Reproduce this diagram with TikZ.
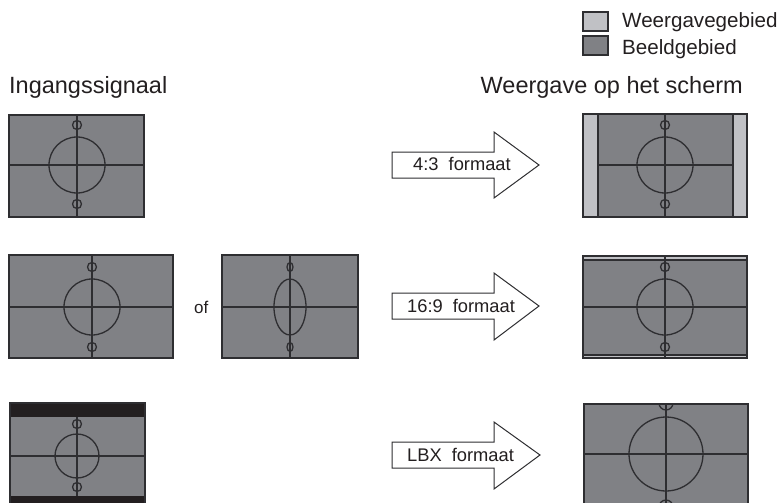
\documentclass[tikz,border=0pt]{standalone}
\usepackage{fontspec}
\setmainfont{Liberation Sans}
\definecolor{img}{HTML}{808185}
\definecolor{disp}{HTML}{C0C1C5}
\definecolor{ln}{HTML}{2E2E31}
\definecolor{barc}{HTML}{231F20}
\definecolor{txt}{HTML}{231F20}
\begin{document}
\begin{tikzpicture}[x=1pt,y=-1pt,line join=miter,
  frame/.style={draw=ln,line width=1.5pt},
  cross/.style={draw=ln,line width=1.3pt},
  bigarrow/.style={draw=ln,fill=white,line width=1pt},
  swatch/.style={draw=ln,line width=1.1pt},
  lbl/.style={inner sep=0pt,text=txt}]
\useasboundingbox (0,0) rectangle (782,503);
\clip (0,0) rectangle (782,503);

% titles
\node[lbl,anchor=base west,font=\fontsize{23.5}{26}\selectfont] (tin) at (9,93) {Ingangssignaal};
\node[lbl,anchor=base east,font=\fontsize{23.5}{26}\selectfont] (tout) at (743,93) {Weergave op het scherm};

% legend
\draw[swatch,fill=disp] (583,12) rectangle (608,31);
\draw[swatch,fill=img] (583,36) rectangle (608,55);
\node[lbl,anchor=base west,font=\fontsize{20.6}{22}\selectfont] (lg1) at (622,28) {Weergavegebied};
\node[lbl,anchor=base west,font=\fontsize{20.6}{22}\selectfont] (lg2) at (622,55) {Beeldgebied};

% ---------- row 1 left (4:3)
\fill[img] (9,115) rectangle (144,217);
\draw[cross] (77,115) -- (77,217) (9,165) -- (144,165);
\draw[cross] (77,165) circle (28pt) (77,125) circle (4.5pt) (77,204) circle (4.5pt);
\draw[frame] (9,115) rectangle (144,217);

% ---------- row 2 left (16:9)
\fill[img] (9,255) rectangle (173,358);
\draw[cross] (92,255) -- (92,358) (9,307) -- (173,307);
\draw[cross] (92,307) circle (28pt) (92,267) circle (4.5pt) (92,347) circle (4.5pt);
\draw[frame] (9,255) rectangle (173,358);

\node[lbl,anchor=base west,font=\fontsize{17}{19}\selectfont] (of) at (194,313) {of};

% ---------- row 2 squeezed
\fill[img] (222,255) rectangle (358,358);
\draw[cross] (290,255) -- (290,358) (222,307) -- (358,307);
\draw[cross] (290,307) ellipse [x radius=16pt,y radius=28pt]
  (290,267) ellipse [x radius=3pt,y radius=4.5pt]
  (290,347) ellipse [x radius=3pt,y radius=4.5pt];
\draw[frame] (222,255) rectangle (358,358);

% ---------- row 3 left (letterbox)
\fill[img] (10,403) rectangle (145,505);
\fill[barc] (10,403) rectangle (145,417);
\fill[barc] (10,496) rectangle (145,505);
\draw[cross] (77,417) -- (77,496) (10,456) -- (145,456);
\draw[cross] (77,456) circle (22pt) (77,424) circle (4.5pt) (77,487) circle (4.5pt);
\draw[frame] (10,403) rectangle (145,505);

% ---------- arrows
\draw[bigarrow] (392,152) -- (494,152) -- (494,132) -- (539,165) -- (494,198) -- (494,178) -- (392,178) -- cycle;
\node[lbl,anchor=base west,font=\fontsize{18.3}{20}\selectfont] (a1) at (413,170) {4:3\hspace{0.55em}formaat};
\draw[bigarrow] (392,293) -- (494,293) -- (494,273) -- (539,306) -- (494,340) -- (494,319) -- (392,319) -- cycle;
\node[lbl,anchor=base west,font=\fontsize{18.3}{20}\selectfont] (a2) at (407,312) {16:9\hspace{0.55em}formaat};
\draw[bigarrow] (392,442) -- (494,442) -- (494,422) -- (540,455) -- (494,489) -- (494,468) -- (392,468) -- cycle;
\node[lbl,anchor=base west,font=\fontsize{18.3}{20}\selectfont] (a3) at (407,461) {LBX\hspace{0.55em}formaat};

% ---------- row 1 right (pillarbox)
\fill[disp] (583,114) rectangle (747,217);
\fill[img] (598,114) rectangle (733,217);
\draw[cross] (665,114) -- (665,217) (598,165) -- (733,165);
\draw[cross] (665,165) circle (28pt) (665,125) circle (4.5pt) (665,204) circle (4.5pt);
\draw[frame] (598,114) -- (598,217) (733,114) -- (733,217);
\draw[frame] (583,114) rectangle (747,217);

% ---------- row 2 right
\fill[disp] (583,256) rectangle (747,358);
\fill[img] (583,260) rectangle (747,355);
\draw[cross] (665,256) -- (665,358) (583,307) -- (747,307);
\draw[cross] (665,307) circle (28pt) (665,267) circle (4.5pt) (665,347) circle (4.5pt);
\draw[frame] (583,260) -- (747,260) (583,355) -- (747,355);
\draw[frame] (583,256) rectangle (747,358);

% ---------- row 3 right (zoomed)
\begin{scope}
\clip (584,404) rectangle (748,520);
\fill[img] (584,404) rectangle (748,520);
\draw[cross] (666,404) -- (666,520) (584,454) -- (748,454);
\draw[cross] (666,454) circle (37pt) (666,403) circle (7pt) (666,507) circle (7pt);
\end{scope}
\draw[frame] (584,404) rectangle (748,520);
\end{tikzpicture}
\end{document}
